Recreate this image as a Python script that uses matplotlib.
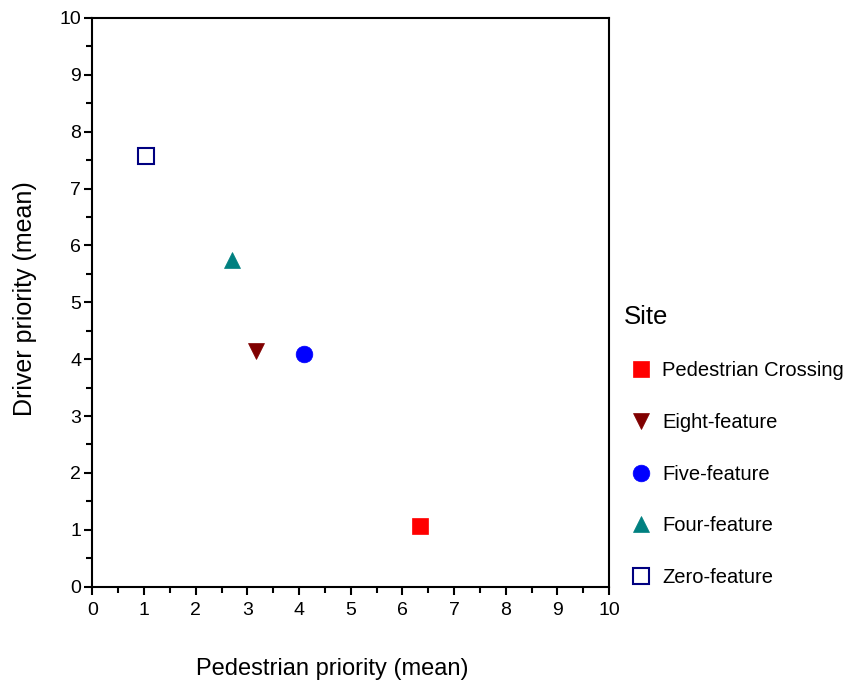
import matplotlib
matplotlib.use("Agg")
import matplotlib.pyplot as plt
from matplotlib.ticker import MultipleLocator

plt.rcParams['font.family'] = ['Liberation Sans', 'DejaVu Sans']

# data
sites = ['Pedestrian Crossing', 'Eight-feature', 'Five-feature', 'Four-feature', 'Zero-feature']
pedestrian = [6.35, 3.17, 4.09, 2.70, 1.03]
driver = [1.06, 4.15, 4.10, 5.75, 7.58]

markers = ['s', 'v', 'o', '^', 's']
colors = ['#ff0000', '#800000', '#0000ff', '#008080', '#000080']
filled = [True, True, True, True, False]
sizes = [11, 11, 12, 11, 11]

fig = plt.figure(figsize=(8.44, 6.86), dpi=100)
ax = fig.add_axes([0.1094, 0.1448, 0.6122, 0.829])

for name, x, y, m, c, f, s in zip(sites, pedestrian, driver, markers, colors, filled, sizes):
    ax.plot([x], [y], linestyle='none', marker=m, markersize=s,
            markerfacecolor=c if f else 'white', markeredgecolor=c,
            markeredgewidth=1.5 if not f else 0.5, label=name, clip_on=False)

ax.set_xlim(0, 10)
ax.set_ylim(0, 10)
ax.xaxis.set_major_locator(MultipleLocator(1))
ax.yaxis.set_major_locator(MultipleLocator(1))
ax.xaxis.set_minor_locator(MultipleLocator(0.5))
ax.yaxis.set_minor_locator(MultipleLocator(0.5))
ax.tick_params(which='major', direction='out', length=6, width=1.5, labelsize=14)
ax.tick_params(which='minor', direction='out', length=4, width=1.5)
ax.tick_params(axis='x', which='major', pad=5)
ax.tick_params(axis='y', which='major', pad=2)
for sp in ax.spines.values():
    sp.set_linewidth(1.5)

ax.set_xlabel('Pedestrian priority (mean)', fontsize=17)
ax.set_ylabel('Driver priority (mean)', fontsize=18)
# labels in the reference sit a little off-centre
ax.xaxis.set_label_coords(0.464, -0.126)
ax.yaxis.set_label_coords(-0.107, 0.507)

# legend title drawn on its own so the handles sit indented under it
fig.text(624 / 844, 1 - 317 / 686, 'Site', fontsize=18.5, ha='left', va='center')
leg = fig.legend(loc='upper left', bbox_to_anchor=(629 / 844, 1 - 361 / 686),
                 bbox_transform=fig.transFigure, frameon=False, fontsize=14.5,
                 labelspacing=1.63, handletextpad=0.45, borderpad=0.0,
                 borderaxespad=0.0, handlelength=1.2, numpoints=1)

fig.savefig('out.png', dpi=100)
